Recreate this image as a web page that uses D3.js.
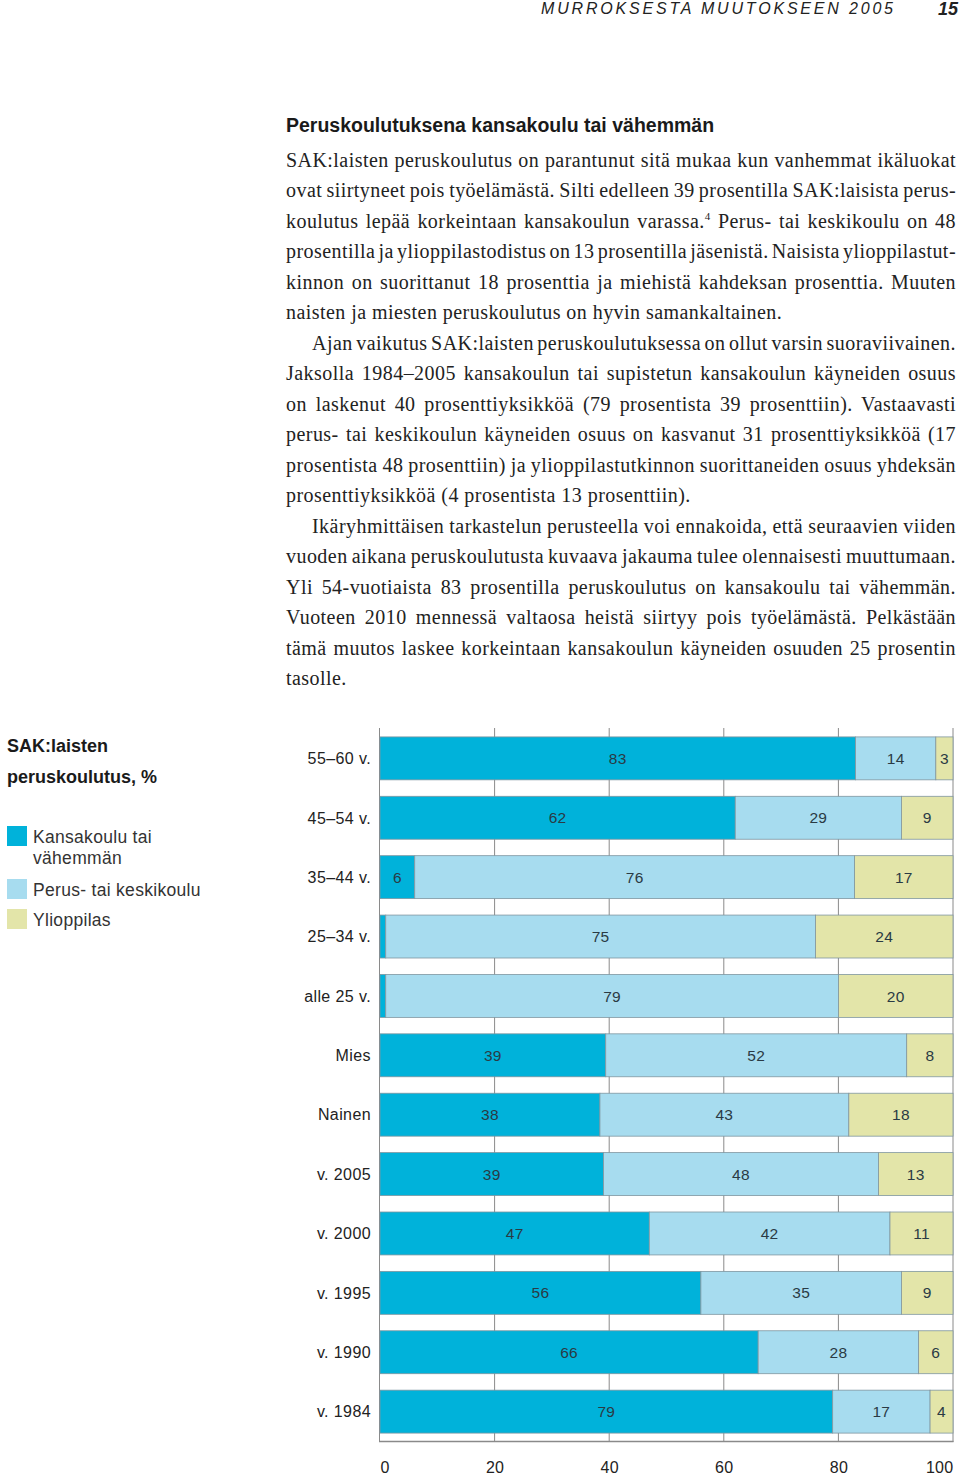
<!DOCTYPE html>
<html><head><meta charset="utf-8">
<script src="https://cdn.jsdelivr.net/npm/d3@7"></script>
<style>
html,body{margin:0;padding:0;background:#fff;}
svg{display:block;}
</style></head>
<body>
<svg id="chart" width="960" height="1477"></svg>
<script>
// ---- data ----
const categories = ["55–60 v.","45–54 v.","35–44 v.","25–34 v.","alle 25 v.","Mies","Nainen","v. 2005","v. 2000","v. 1995","v. 1990","v. 1984"];
const kansakoulu = [83,62,6,1,1,39,38,39,47,56,66,79];
const perus      = [14,29,76,75,79,52,43,48,42,35,28,17];
const ylioppilas = [3,9,17,24,20,8,18,13,11,9,6,4];
const seriesKeys = ["kansakoulu","perus","ylioppilas"];
const legendLabels = [["Kansakoulu tai","vähemmän"],["Perus- tai keskikoulu"],["Ylioppilas"]];
const xTicks = [0,20,40,60,80,100];
const colors = ["#00b2da","#a7dcef","#e3e5a9"];

const headerText = "MURROKSESTA MUUTOKSEEN 2005";
const pageNumber = "15";
const heading = "Peruskoulutuksena kansakoulu tai vähemmän";
const chartTitle = ["SAK:laisten","peruskoulutus, %"];
// body lines: [text, indent, justified]; |x| marks a superscript
const bodyLines = [
  ["SAK:laisten peruskoulutus on parantunut sitä mukaa kun vanhemmat ikäluokat",0,true],
  ["ovat siirtyneet pois työelämästä. Silti edelleen 39 prosentilla SAK:laisista perus-",0,true],
  ["koulutus lepää korkeintaan kansakoulun varassa.|4| Perus- tai keskikoulu on 48",0,true],
  ["prosentilla ja ylioppilastodistus on 13 prosentilla jäsenistä. Naisista ylioppilastut-",0,true],
  ["kinnon on suorittanut 18 prosenttia ja miehistä kahdeksan prosenttia. Muuten",0,true],
  ["naisten ja miesten peruskoulutus on hyvin samankaltainen.",0,false],
  ["Ajan vaikutus SAK:laisten peruskoulutuksessa on ollut varsin suoraviivainen.",1,true],
  ["Jaksolla 1984–2005 kansakoulun tai supistetun kansakoulun käyneiden osuus",0,true],
  ["on laskenut 40 prosenttiyksikköä (79 prosentista 39 prosenttiin). Vastaavasti",0,true],
  ["perus- tai keskikoulun käyneiden osuus on kasvanut 31 prosenttiyksikköä (17",0,true],
  ["prosentista 48 prosenttiin) ja ylioppilastutkinnon suorittaneiden osuus yhdeksän",0,true],
  ["prosenttiyksikköä (4 prosentista 13 prosenttiin).",0,false],
  ["Ikäryhmittäisen tarkastelun perusteella voi ennakoida, että seuraavien viiden",1,true],
  ["vuoden aikana peruskoulutusta kuvaava jakauma tulee olennaisesti muuttumaan.",0,true],
  ["Yli 54-vuotiaista 83 prosentilla peruskoulutus on kansakoulu tai vähemmän.",0,true],
  ["Vuoteen 2010 mennessä valtaosa heistä siirtyy pois työelämästä. Pelkästään",0,true],
  ["tämä muutos laskee korkeintaan kansakoulun käyneiden osuuden 25 prosentin",0,true],
  ["tasolle.",0,false]
];

const svg = d3.select("#chart");
const sans = "'Liberation Sans', Arial, Helvetica, sans-serif";
const serif = "'Liberation Serif', 'Times New Roman', serif";

// ---- header ----
svg.append("text").attr("x",541).attr("y",14)
  .attr("font-family",sans).attr("font-style","italic").attr("font-size",16)
  .attr("fill","#222").attr("textLength",352).attr("lengthAdjust","spacing")
  .text(headerText);
svg.append("text").attr("x",958).attr("y",15).attr("text-anchor","end")
  .attr("font-family",sans).attr("font-style","italic").attr("font-weight","bold").attr("font-size",18)
  .attr("fill","#222").text(pageNumber);

// ---- heading and body ----
svg.append("text").attr("x",286).attr("y",132)
  .attr("font-family",sans).attr("font-weight","bold").attr("font-size",19.5)
  .attr("fill","#1a1a1a").text(heading);

const textLeft = 286, textRight = 956, indentW = 26, lineStep = 30.5, firstBase = 166.5;
bodyLines.forEach((ln,i) => {
  const [str, indent, just] = ln;
  const x0 = textLeft + (indent ? indentW : 0);
  const t = svg.append("text").attr("x",x0).attr("y",firstBase + i*lineStep)
    .attr("font-family",serif).attr("font-size",20).attr("letter-spacing",0.45).attr("fill","#222");
  const parts = str.split("|");
  parts.forEach((p,k) => {
    if (k % 2 === 1) {
      t.append("tspan").attr("font-size",11).attr("dy",-8).text(p);
    } else {
      const ts = t.append("tspan").text(p);
      if (k > 0) ts.attr("dy",8);
    }
  });
  if (just) {
    const nat = t.node().getComputedTextLength();
    const spaces = (str.match(/ /g) || []).length;
    const target = textRight - x0;
    if (spaces > 0) t.attr("word-spacing", (target - nat)/spaces);
  }
});

// ---- chart title and legend ----
chartTitle.forEach((s,i) => {
  svg.append("text").attr("x",7).attr("y",752 + i*31)
    .attr("font-family",sans).attr("font-weight","bold").attr("font-size",18)
    .attr("fill","#1a1a1a").text(s);
});
const legendY = [826, 879, 909];
seriesKeys.forEach((k,i) => {
  svg.append("rect").attr("x",7).attr("y",legendY[i]).attr("width",20).attr("height",20)
    .attr("fill",colors[i]);
  legendLabels[i].forEach((s,j) => {
    svg.append("text").attr("x",33).attr("y",legendY[i] + 17 + j*21)
      .attr("font-family",sans).attr("font-size",17.5).attr("letter-spacing",0.3)
      .attr("fill","#333").text(s);
  });
});

// ---- stacked bars ----
const rows = categories.map((c,i) => ({cat:c, kansakoulu:kansakoulu[i], perus:perus[i], ylioppilas:ylioppilas[i]}));
const stack = d3.stack().keys(seriesKeys).offset(d3.stackOffsetExpand);
const series = stack(rows);

const x = d3.scaleLinear().domain([0,1]).range([380,953]);
const xAxisScale = d3.scaleLinear().domain([0,100]).range([380,953]);
const y = d3.scaleBand().domain(categories).range([728,1442]).paddingInner(0.277).paddingOuter(0.15);

// grid lines
svg.append("g").selectAll("line").data(xTicks.filter(t => t>0 && t<100)).join("line")
  .attr("x1",d=>xAxisScale(d)).attr("x2",d=>xAxisScale(d))
  .attr("y1",728).attr("y2",1442).attr("stroke","#8a8a8a").attr("stroke-width",1);
// frame
svg.append("line").attr("x1",379.5).attr("x2",379.5).attr("y1",728).attr("y2",1442).attr("stroke","#8a8a8a");
svg.append("line").attr("x1",953).attr("x2",953).attr("y1",728).attr("y2",1442).attr("stroke","#8a8a8a");
svg.append("line").attr("x1",379).attr("x2",953.5).attr("y1",1441.5).attr("y2",1441.5).attr("stroke","#8a8a8a").attr("stroke-width",1.5);

const g = svg.append("g");
series.forEach((s,si) => {
  g.append("g").selectAll("rect").data(s).join("rect")
    .attr("x",d=>x(d[0])).attr("width",d=>x(d[1])-x(d[0]))
    .attr("y",d=>y(d.data.cat)).attr("height",y.bandwidth())
    .attr("fill",colors[si]).attr("stroke","#7f96a0").attr("stroke-width",0.8);
});
// value labels
series.forEach((s,si) => {
  g.append("g").selectAll("text").data(s.filter(d => d.data[s.key] >= 2)).join("text")
    .attr("x",d=>(x(d[0])+x(d[1]))/2).attr("y",d=>y(d.data.cat)+y.bandwidth()/2)
    .attr("dy","0.36em").attr("text-anchor","middle")
    .attr("font-family",sans).attr("font-size",15.5).attr("letter-spacing",0.3).attr("fill","#2a3a44")
    .text(d=>d.data[s.key]);
});

// category labels
svg.append("g").selectAll("text").data(categories).join("text")
  .attr("x",371).attr("y",d=>y(d)+y.bandwidth()/2).attr("dy","0.36em")
  .attr("text-anchor","end").attr("font-family",sans).attr("font-size",16).attr("letter-spacing",0.4)
  .attr("fill","#222")
  .text(d=>d);

// x axis labels
const axis = d3.axisBottom(xAxisScale).tickValues(xTicks).tickSize(0).tickPadding(0);
const ax = svg.append("g").attr("transform","translate(0,1462)").call(axis);
ax.select(".domain").remove();
ax.selectAll("text").attr("font-family",sans).attr("font-size",16).attr("letter-spacing",0.3).attr("fill","#222")
  .attr("text-anchor",d => d===0 ? "start" : (d===100 ? "end" : "middle"))
  .attr("dy","0.71em");
</script>
</body></html>
